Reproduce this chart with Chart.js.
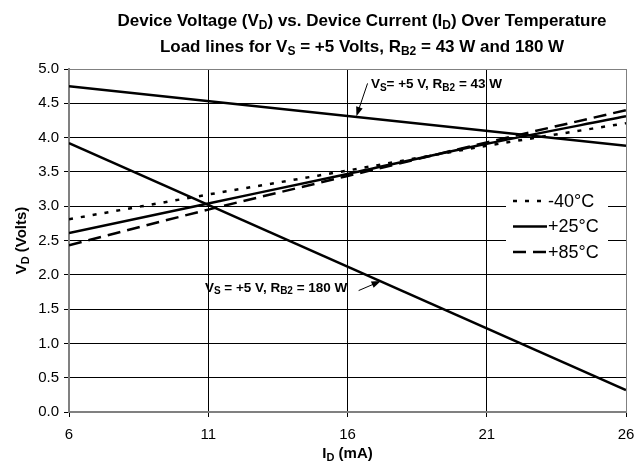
<!DOCTYPE html>
<html>
<head>
<meta charset="utf-8">
<script src="https://cdn.jsdelivr.net/npm/chart.js@4/dist/chart.umd.min.js"></script>
<style>
  html, body { margin: 0; padding: 0; background: #fff; }
  #wrap { width: 634px; height: 469px; }
</style>
</head>
<body>
<div id="wrap"><canvas id="chart"></canvas></div>
<script>
// ── Data ──────────────────────────────────────────────────
const currentMA = [6, 11, 16, 21, 26];
const vdMinus40 = [2.81, 3.17, 3.52, 3.88, 4.21];
const vdPlus25  = [2.61, 3.04, 3.47, 3.91, 4.31];
const vdPlus85  = [2.43, 2.95, 3.44, 3.93, 4.40];

const loadX      = [6, 26];
const load43     = [4.75, 3.88];
const load180    = [3.92, 0.32];

const xTicks = [6, 11, 16, 21, 26];
const yTicks = [0, 0.5, 1, 1.5, 2, 2.5, 3, 3.5, 4, 4.5, 5];

const seriesLabels = ['-40°C', '+25°C', '+85°C'];

// annotation anchors in data units: [textX, textY, tailX, tailY, tipX, tipY]
const note43  = [16.84, 4.72, 16.72, 4.79, 16.32, 4.31];
const note180 = [10.88, 1.75, 16.40, 1.77, 17.20, 1.91];

const FONT = '"Liberation Sans", Arial, sans-serif';

const toPts = (xs, ys) => xs.map((x, i) => ({ x, y: ys[i] }));

// ── Rich text with subscripts ─────────────────────────────
function richWidth(ctx, parts, size, weight) {
  let w = 0;
  parts.forEach(([t, sub]) => {
    ctx.font = `${weight} ${sub ? Math.round(size * 0.72) : size}px ${FONT}`;
    w += ctx.measureText(t).width;
  });
  return w;
}

function drawRich(ctx, parts, x, y, size, weight, align) {
  const w = richWidth(ctx, parts, size, weight);
  let cx = align === 'center' ? x - w / 2 : x;
  ctx.textAlign = 'left';
  ctx.textBaseline = 'alphabetic';
  parts.forEach(([t, sub]) => {
    ctx.font = `${weight} ${sub ? Math.round(size * 0.72) : size}px ${FONT}`;
    ctx.fillText(t, cx, sub ? y + size * 0.18 : y);
    cx += ctx.measureText(t).width;
  });
}

function arrow(ctx, x1, y1, x2, y2) {
  const a = Math.atan2(y2 - y1, x2 - x1);
  const head = 10;
  ctx.beginPath();
  ctx.moveTo(x1, y1);
  ctx.lineTo(x2 - Math.cos(a) * head * 0.8, y2 - Math.sin(a) * head * 0.8);
  ctx.lineWidth = 1;
  ctx.stroke();
  ctx.beginPath();
  ctx.moveTo(x2, y2);
  ctx.lineTo(x2 - head * Math.cos(a - 0.35), y2 - head * Math.sin(a - 0.35));
  ctx.lineTo(x2 - head * Math.cos(a + 0.35), y2 - head * Math.sin(a + 0.35));
  ctx.closePath();
  ctx.fill();
}

// ── Plugin: titles, notes, legend ─────────────────────────
const decorations = {
  id: 'decorations',
  afterDatasetsDraw(chart) {
    const { ctx, chartArea: a, scales: { x, y } } = chart;
    ctx.save();
    ctx.fillStyle = '#000';
    ctx.strokeStyle = '#000';

    // chart title
    const tx = 362;
    drawRich(ctx, [['Device Voltage (V', 0], ['D', 1], [') vs. Device Current (I', 0], ['D', 1], [') Over Temperature', 0]],
      tx, 26, 17, 'bold', 'center');
    drawRich(ctx, [['Load lines for V', 0], ['S', 1], [' = +5 Volts, R', 0], ['B2', 1], [' = 43 W and 180 W', 0]],
      tx, 52, 17, 'bold', 'center');

    // axis titles
    drawRich(ctx, [['I', 0], ['D', 1], [' (mA)', 0]], (a.left + a.right) / 2, 458, 15, 'bold', 'center');
    ctx.save();
    ctx.translate(26, (a.top + a.bottom) / 2);
    ctx.rotate(-Math.PI / 2);
    drawRich(ctx, [['V', 0], ['D', 1], [' (Volts)', 0]], 0, 0, 15, 'bold', 'center');
    ctx.restore();

    // load line notes
    [[note43, [['V', 0], ['S', 1], ['= +5 V, R', 0], ['B2', 1], [' = 43 W', 0]]],
     [note180, [['V', 0], ['S', 1], [' = +5 V, R', 0], ['B2', 1], [' = 180 W', 0]]]].forEach(([n, parts]) => {
      drawRich(ctx, parts, x.getPixelForValue(n[0]), y.getPixelForValue(n[1]), 13.5, 'bold', 'left');
      arrow(ctx, x.getPixelForValue(n[2]), y.getPixelForValue(n[3]),
                 x.getPixelForValue(n[4]), y.getPixelForValue(n[5]));
    });

    // legend inside plot
    const lx = a.right - 120, ly = a.top + 114;
    ctx.fillStyle = '#fff';
    ctx.fillRect(lx, ly, 102, 86);
    chart.data.datasets.slice(0, 3).forEach((ds, i) => {
      const yy = ly + 18 + i * 25.5;
      ctx.beginPath();
      ctx.setLineDash(ds.borderDash || []);
      ctx.lineWidth = 2.5;
      ctx.strokeStyle = '#000';
      ctx.moveTo(lx + 7, yy);
      ctx.lineTo(lx + 41, yy);
      ctx.stroke();
      ctx.setLineDash([]);
      ctx.fillStyle = '#000';
      ctx.font = `18px ${FONT}`;
      ctx.textAlign = 'left';
      ctx.textBaseline = 'middle';
      ctx.fillText(ds.label, lx + 42, yy + 1);
    });
    ctx.restore();
  }
};

// ── Chart ─────────────────────────────────────────────────
const lineBase = { borderColor: '#000', borderWidth: 2.5, pointRadius: 0, fill: false };

const edgeColor = c => (c.tick && (c.tick.value === 5 || c.tick.value === 26)) ? '#808080' : '#000';

new Chart(document.getElementById('chart'), {
  type: 'line',
  data: {
    datasets: [
      { ...lineBase, label: seriesLabels[0], data: toPts(currentMA, vdMinus40), borderDash: [4, 8], cubicInterpolationMode: 'monotone' },
      { ...lineBase, label: seriesLabels[1], data: toPts(currentMA, vdPlus25), cubicInterpolationMode: 'monotone' },
      { ...lineBase, label: seriesLabels[2], data: toPts(currentMA, vdPlus85), borderDash: [13, 7], cubicInterpolationMode: 'monotone' },
      { ...lineBase, label: 'RB2 = 43', data: toPts(loadX, load43) },
      { ...lineBase, label: 'RB2 = 180', data: toPts(loadX, load180) }
    ]
  },
  options: {
    responsive: true,
    maintainAspectRatio: false,
    animation: false,
    layout: { padding: { top: 69, right: 0, left: 0, bottom: 0 } },
    plugins: { legend: { display: false }, title: { display: false }, tooltip: { enabled: false } },
    scales: {
      x: {
        type: 'linear', min: 6, max: 26,
        afterBuildTicks: s => { s.ticks = xTicks.map(v => ({ value: v })); },
        afterFit: s => { s.height = 57; s.paddingLeft = 0; s.paddingRight = 8; },
        grid: { color: edgeColor, lineWidth: 1, tickLength: 5, tickColor: '#000' },
        border: { color: '#808080', width: 2 },
        ticks: { color: '#000', font: { family: FONT, size: 15 }, padding: 9 }
      },
      y: {
        min: 0, max: 5,
        afterBuildTicks: s => { s.ticks = yTicks.map(v => ({ value: v })); },
        afterFit: s => { s.width = 69; s.paddingTop = 0; s.paddingBottom = 0; },
        grid: { color: edgeColor, lineWidth: 1, tickLength: 5, tickColor: '#000' },
        border: { color: '#808080', width: 2 },
        ticks: { color: '#000', font: { family: FONT, size: 15 }, padding: 5, callback: v => v.toFixed(1) }
      }
    }
  },
  plugins: [decorations]
});
</script>
</body>
</html>
